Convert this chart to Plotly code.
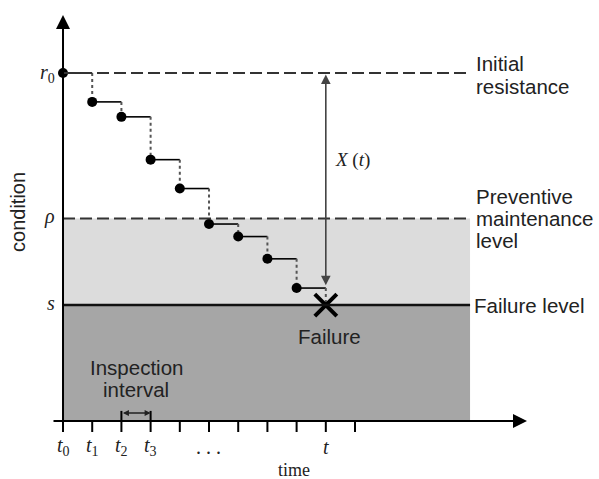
import plotly.graph_objects as go

# ---- data (condition units; time in inspection-interval units) ----
inspection_times = [0, 1, 2, 3, 4, 5, 6, 7, 8]
condition_values = [10.0, 9.17, 8.74, 7.51, 6.68, 5.66, 5.30, 4.66, 3.82]
r0_level = 10.0
rho_level = 5.82
s_level = 3.33
failure_time = 9
tick_positions = [0, 1, 2, 3, 4, 5, 6, 7, 8, 9, 10]
tick_label_pos = [0, 1, 2, 3, 4.97, 9]
tick_label_text = ["<i>t</i><sub>0</sub>", "<i>t</i><sub>1</sub>", "<i>t</i><sub>2</sub>",
                   "<i>t</i><sub>3</sub>", ". . .", "<i>t</i>"]
region_end = 13.94
x_range = [-2.158, 18.356]
y_range = [-1.667, 12.098]

SERIF = "Liberation Serif"
SANS = "Liberation Sans"
PX_Y = 34.8  # pixels per condition unit (for text line offsets)

fig = go.Figure()
shapes = []
annotations = []

# shaded regions
shapes.append(dict(type="rect", x0=0, x1=region_end, y0=0, y1=s_level,
                   fillcolor="#a6a6a6", line=dict(width=0), layer="below"))
shapes.append(dict(type="rect", x0=0, x1=region_end, y0=s_level, y1=rho_level,
                   fillcolor="#dcdcdc", line=dict(width=0), layer="below"))
# level lines
shapes.append(dict(type="line", x0=0, x1=region_end, y0=r0_level, y1=r0_level,
                   line=dict(color="#333333", width=2, dash="12px,5px")))
shapes.append(dict(type="line", x0=0, x1=region_end, y0=rho_level, y1=rho_level,
                   line=dict(color="#333333", width=2, dash="12px,5px")))
shapes.append(dict(type="line", x0=0, x1=region_end, y0=s_level, y1=s_level,
                   line=dict(color="#111111", width=2.5)))

# ticks on time axis
for tp in tick_positions:
    top = 0.29 if tp in (2, 3) else 0
    shapes.append(dict(type="line", x0=tp, x1=tp, y0=-0.316, y1=top,
                       line=dict(color="black", width=2)))

# degradation steps
nxt = condition_values[1:] + [s_level]
for t, v, vn in zip(inspection_times, condition_values, nxt):
    fig.add_trace(go.Scatter(x=[t, t + 1], y=[v, v], mode="lines",
                             line=dict(color="black", width=1.6),
                             showlegend=False, hoverinfo="skip"))
    fig.add_trace(go.Scatter(x=[t + 1, t + 1], y=[v, vn], mode="lines",
                             line=dict(color="#555555", width=2, dash="dot"),
                             showlegend=False, hoverinfo="skip"))
fig.add_trace(go.Scatter(x=inspection_times, y=condition_values, mode="markers",
                         marker=dict(color="black", size=10),
                         showlegend=False, hoverinfo="skip"))
# failure cross
fig.add_trace(go.Scatter(x=[failure_time], y=[s_level], mode="markers",
                         marker=dict(symbol="x-thin-open", size=22, color="black",
                                     line=dict(color="black", width=4)),
                         showlegend=False, hoverinfo="skip"))

# axes arrows
annotations.append(dict(x=0, y=11.67, ax=0, ay=-0.316, xref="x", yref="y",
                        axref="x", ayref="y", showarrow=True, arrowhead=2,
                        arrowsize=1.4, arrowwidth=2, arrowcolor="black", text=""))
annotations.append(dict(x=15.89, y=0, ax=-0.377, ay=0, xref="x", yref="y",
                        axref="x", ayref="y", showarrow=True, arrowhead=2,
                        arrowsize=1.4, arrowwidth=2, arrowcolor="black", text=""))
# X(t) double arrow
annotations.append(dict(x=failure_time, y=3.9, ax=failure_time, ay=r0_level,
                        xref="x", yref="y", axref="x", ayref="y", showarrow=True,
                        arrowhead=2, startarrowhead=2, arrowside="end+start",
                        arrowsize=1.2, startarrowsize=1.2, arrowwidth=1.6,
                        arrowcolor="#444444", text=""))
# inspection interval double arrow
annotations.append(dict(x=3, y=0.23, ax=2, ay=0.23, xref="x", yref="y",
                        axref="x", ayref="y", showarrow=True,
                        arrowhead=2, startarrowhead=2, arrowside="end+start",
                        arrowsize=0.8, startarrowsize=0.8, arrowwidth=1.5,
                        arrowcolor="#222222", text=""))

def txt(x, y, text, size=20.5, family=SANS, xanchor="center", **kw):
    annotations.append(dict(x=x, y=y, xref="x", yref="y", text=text,
                            showarrow=False, xanchor=xanchor, yanchor="middle",
                            font=dict(family=family, size=size, color="#222222"), **kw))

def lines(x, y_center, parts, step_px=22, **kw):
    n = len(parts)
    for i, p in enumerate(parts):
        off = ((n - 1) / 2 - i) * step_px / PX_Y
        txt(x, y_center + off, p, **kw)

txt(9.25, 7.5, "<i>X</i> (<i>t</i>)", size=19, family=SERIF, xanchor="left")
txt(-0.22, r0_level, "<i>r</i><sub>0</sub>", size=20, family=SERIF, xanchor="right")
txt(-0.22, rho_level + 0.05, "<i>ρ</i>", size=20, family=SERIF, xanchor="right")
txt(-0.22, s_level + 0.05, "<i>s</i>", size=20, family=SERIF, xanchor="right")
for p, lab in zip(tick_label_pos, tick_label_text):
    txt(p, -0.74, lab, size=20, family=SERIF)
txt(7.91, -1.42, "time", size=18, family=SERIF)
txt(-1.55, 6.0, "condition", size=20, textangle=-90)
lines(14.08, 9.93, ["Initial", "resistance"], step_px=23, xanchor="left")
lines(14.08, rho_level, ["Preventive", "maintenance", "level"], step_px=22, xanchor="left")
txt(14.0, s_level, "Failure level", xanchor="left")
txt(9.11, 2.44, "Failure")
lines(2.5, 1.21, ["Inspection", "interval"], step_px=22)

fig.update_layout(
    width=599, height=479, autosize=False,
    margin=dict(l=0, r=0, t=0, b=0),
    plot_bgcolor="white", paper_bgcolor="white",
    xaxis=dict(range=x_range, visible=False, fixedrange=True),
    yaxis=dict(range=y_range, visible=False, fixedrange=True),
    shapes=shapes, annotations=annotations,
)
fig.write_html("out.html")
